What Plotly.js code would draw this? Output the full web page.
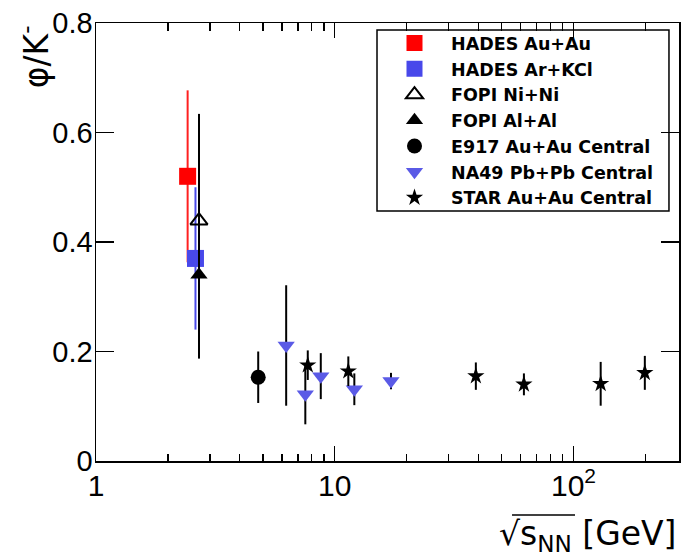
<!DOCTYPE html>
<html>
<head>
<meta charset="utf-8">
<script src="https://cdn.plot.ly/plotly-3.0.1.min.js"></script>
<style>html,body{margin:0;padding:0;background:#fff;}#chart{width:685px;height:559px;}</style>
</head>
<body>
<div id="chart"></div>
<script>
// ---- data ----
const seriesNames = ["HADES Au+Au", "HADES Ar+KCl", "FOPI Ni+Ni", "FOPI Al+Al",
                     "E917 Au+Au Central", "NA49 Pb+Pb Central", "STAR Au+Au Central"];

const hadesAuAuX = [2.42];
const hadesAuAuY = [0.52];
const hadesAuAuErr = [0.157];

const hadesArKClX = [2.61];
const hadesArKClY = [0.37];
const hadesArKClErr = [0.13];

const fopiNiNiX = [2.70];
const fopiNiNiY = [0.439];
const fopiNiNiErr = [0.195];

const fopiAlAlX = [2.70];
const fopiAlAlY = [0.34];
const fopiAlAlErr = [0.153];

const e917X = [4.78];
const e917Y = [0.153];
const e917Err = [0.047];

const na49X = [6.26, 7.53, 8.74, 12.08, 17.2];
const na49Y = [0.211, 0.122, 0.155, 0.131, 0.146];
const na49Err = [0.110, 0.055, 0.042, 0.029, 0.015];

const starX = [7.71, 11.4, 39.0, 62.0, 130.0, 199.0];
const starY = [0.175, 0.164, 0.155, 0.140, 0.141, 0.161];
const starErr = [0.027, 0.027, 0.025, 0.020, 0.040, 0.031];

const xTickVals = [1, 10, 100];
const xTickText = ["1", "10", "10<sup>2</sup>"];
const xMinorVals = [2,3,4,5,6,7,8,9,20,30,40,50,60,70,80,90,200];
const yTickVals = [0, 0.2, 0.4, 0.6, 0.8];
const yTickText = ["0", "0.2", "0.4", "0.6", "0.8"];

// ---- traces ----
function err(arr, color) {
  return {type: 'data', array: arr, symmetric: true, color: color, thickness: 2, width: 0};
}
const traces = [
  {x: hadesAuAuX, y: hadesAuAuY, name: seriesNames[0], error_y: err(hadesAuAuErr, '#ff2020'),
   marker: {symbol: 'square', size: 17, color: '#ff0000'}},
  {x: hadesArKClX, y: hadesArKClY, name: seriesNames[1], error_y: err(hadesArKClErr, '#4a4ae8'),
   marker: {symbol: 'square', size: 17, color: '#4848ea'}},
  {x: fopiNiNiX, y: fopiNiNiY, name: seriesNames[2], error_y: err(fopiNiNiErr, '#000000'),
   marker: {symbol: 'triangle-up-open', size: 15, color: '#000000', line: {width: 2, color: '#000000'}}},
  {x: fopiAlAlX, y: fopiAlAlY, name: seriesNames[3], error_y: err(fopiAlAlErr, '#000000'),
   marker: {symbol: 'triangle-up', size: 15, color: '#000000'}},
  {x: e917X, y: e917Y, name: seriesNames[4], error_y: err(e917Err, '#000000'),
   marker: {symbol: 'circle', size: 15, color: '#000000'}},
  {x: na49X, y: na49Y, name: seriesNames[5], error_y: err(na49Err, '#000000'),
   marker: {symbol: 'triangle-down', size: 15, color: '#5a5ae6'}},
  {x: starX, y: starY, name: seriesNames[6], error_y: err(starErr, '#000000'),
   marker: {symbol: 'star', size: 13, color: '#000000'}}
].map(t => Object.assign({type: 'scatter', mode: 'markers'}, t));

const tickFontX = {family: 'Liberation Sans, Arial, sans-serif', size: 30, color: '#000'};
const tickFontY = {family: 'Liberation Sans, Arial, sans-serif', size: 29, color: '#000'};

const layout = {
  width: 685, height: 559,
  margin: {l: 96, r: 6, t: 23, b: 98, pad: 0},
  paper_bgcolor: '#fff', plot_bgcolor: '#fff',
  showlegend: true,
  xaxis: {
    type: 'log', range: [0, 2.442],
    tickvals: xTickVals, ticktext: xTickText,
    ticks: 'inside', ticklen: 15, tickwidth: 1.5, tickcolor: '#000',
    minor: {tickvals: xMinorVals, ticks: 'inside', ticklen: 7.5, tickwidth: 1.5, tickcolor: '#000', showgrid: false},
    showline: true, linecolor: '#000', linewidth: 1.5, mirror: 'ticks',
    showgrid: false, zeroline: false, tickfont: tickFontX,
    ticklabelstandoff: -3
  },
  yaxis: {
    range: [0, 0.8],
    tickvals: yTickVals, ticktext: yTickText,
    ticks: 'inside', ticklen: 18, tickwidth: 1.5, tickcolor: '#000',
    showline: true, linecolor: '#000', linewidth: 1.5, mirror: 'ticks',
    showgrid: false, zeroline: false, tickfont: tickFontY,
    ticklabelstandoff: -4
  },
  legend: {
    x: 0.4837, xanchor: 'left', y: 0.995, yanchor: 'top',
    bgcolor: 'rgba(0,0,0,0)', borderwidth: 0,
    itemwidth: 63,
    font: {family: 'DejaVu Sans, sans-serif', size: 17.5, weight: 'bold', color: '#000'},
    tracegroupgap: 0
  },
  shapes: [{
    type: 'rect', xref: 'paper', yref: 'paper',
    x0: 0.482, x1: 0.9828, y0: 0.5708, y1: 0.984,
    line: {color: '#000', width: 1.5}, fillcolor: 'rgba(0,0,0,0)', layer: 'above'
  }, {
    type: 'line', xref: 'paper', yref: 'paper',
    x0: 0.7136, x1: 0.8216, y0: -0.1233, y1: -0.1233,
    line: {color: '#000', width: 1.5}
  }],
  annotations: [
    {text: 'φ/K<sup>-</sup>', xref: 'paper', yref: 'paper',
     x: -0.105, xanchor: 'center', y: 1.0, yanchor: 'top', textangle: -90,
     showarrow: false, font: {family: 'DejaVu Sans, sans-serif', size: 33, color: '#000'}},
    {text: '√s<sub>NN</sub> [GeV]', xref: 'paper', yref: 'paper',
     x: 1.0, xanchor: 'right', y: -0.171, yanchor: 'middle',
     showarrow: false, font: {family: 'DejaVu Sans, sans-serif', size: 33, color: '#000'}}
  ]
};

Plotly.newPlot('chart', traces, layout, {displayModeBar: false, staticPlot: true});
</script>
</body>
</html>
